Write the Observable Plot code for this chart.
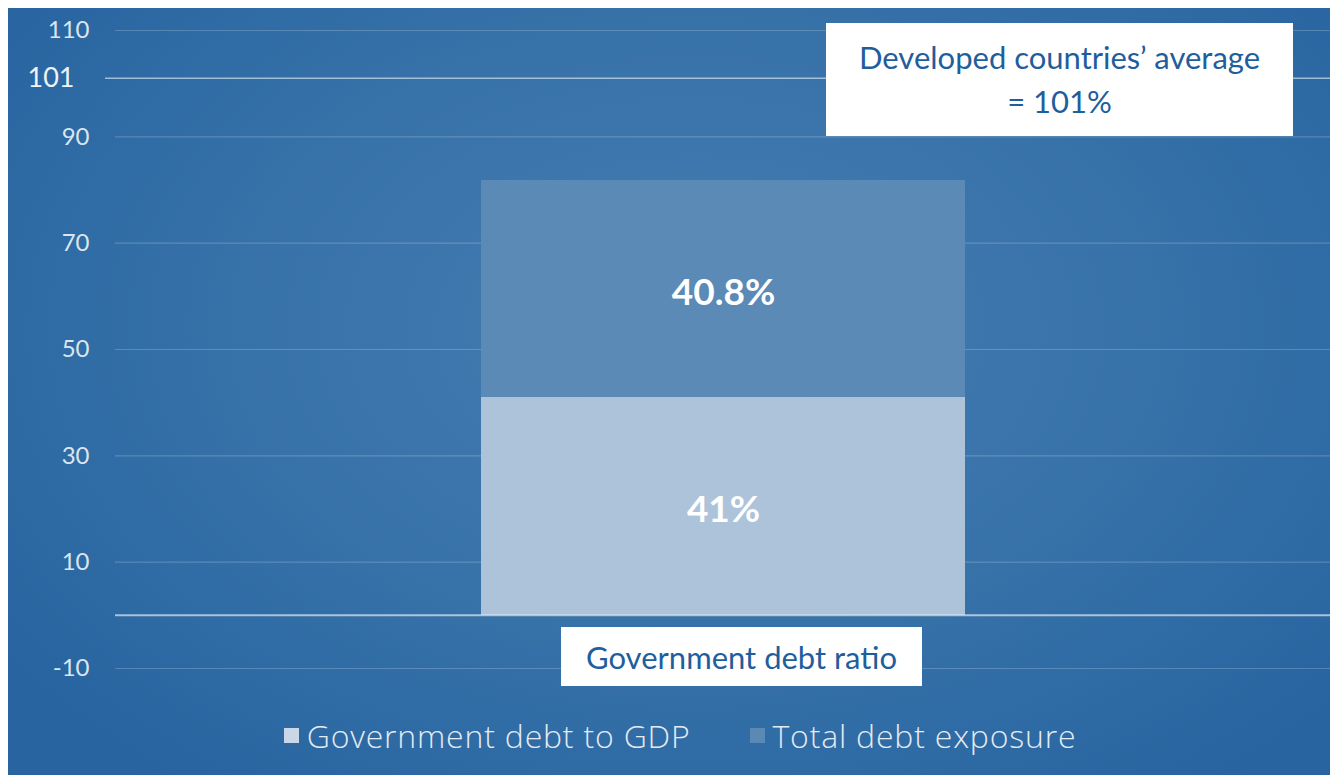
<!DOCTYPE html>
<html>
<head>
<meta charset="utf-8">
<script src="https://cdn.jsdelivr.net/npm/d3@7"></script>
<script src="https://cdn.jsdelivr.net/npm/@observablehq/plot@0.6"></script>
<style>
  html, body { margin: 0; padding: 0; background: #ffffff; overflow: hidden; }
  #wrap {
    position: absolute; left: 8px; top: 8px; width: 1322px; height: 767px;
    background: radial-gradient(ellipse 65% 75% at 52% 42%, #457db1 0%, #3671a8 55%, #2764a0 100%);
    font-family: Lato, "Open Sans", sans-serif;
  }
  #chart { position: absolute; left: 0; top: 0; }
  #note {
    position: absolute; left: 818px; top: 15px; width: 467px; height: 113px;
    background: #ffffff; color: #1f5e9c; font-size: 31px; line-height: 44px;
    text-align: center; box-sizing: border-box; padding-top: 12px;
  }
  #legend {
    position: absolute; left: 0; top: 702px; width: 1322px; height: 50px; box-sizing: border-box; padding-left: 22px;
    display: flex; justify-content: center; align-items: center; gap: 59px;
    color: #e3eaf2; font-family: "Open Sans", Lato, sans-serif; font-weight: 300; font-size: 32px; letter-spacing: 0.8px;
  }
  .item { display: flex; align-items: center; gap: 8px; }
  .sw { width: 15px; height: 15px; display: inline-block; }
</style>
</head>
<body>
<div id="wrap">
  <div id="chart"></div>
  <div id="note"></div>
  <div id="legend"></div>
</div>
<script>
const categories = ["Government debt ratio"];
const series = ["Government debt to GDP", "Total debt exposure"];
const values = [41, 40.8];
const valueLabels = ["41%", "40.8%"];
const seriesColors = ["#adc3da", "#5b8ab6"];
const legendColors = ["#c9d7e7", "#5a89b6"];
const yTicks = [-10, 10, 30, 50, 70, 90, 110];
const average = 101;
const noteLines = ["Developed countries\u2019 average", "= 101%"];

const rows = series.map((s, i) => ({category: categories[0], series: s, value: values[i], label: valueLabels[i]}));

const plot = Plot.plot({
  width: 1322,
  height: 700,
  marginTop: 22,
  marginBottom: 40,
  marginLeft: 107,
  marginRight: 0,
  style: {background: "transparent", color: "#dbe5ef", fontFamily: "Lato, 'Open Sans', sans-serif", overflow: "visible"},
  x: {domain: categories, padding: 0.43},
  y: {domain: [-10, 110]},
  color: {domain: series, range: seriesColors},
  marks: [
    Plot.gridY(yTicks, {stroke: "#ffffff", strokeOpacity: 0.2, strokeWidth: 1.2}),
    Plot.ruleY([average], {stroke: "#ffffff", strokeOpacity: 0.55, strokeWidth: 1.5, insetLeft: -10}),
    Plot.barY(rows, {x: "category", y: "value", fill: "series", order: series}),
    Plot.ruleY([0], {stroke: "#ffffff", strokeOpacity: 0.6, strokeWidth: 2}),
    Plot.text(rows, Plot.stackY({x: "category", y: "value", z: "series", order: series, text: "label", fill: "#ffffff", fontSize: 37, fontWeight: "bold", dy: 4})),
    Plot.axisY({ticks: yTicks, tickSize: 0, tickPadding: 26, fontSize: 24, label: null, fill: "#dbe5ef", tickFormat: d => String(d)}),
    Plot.text([average], {y: d => d, text: d => String(d), frameAnchor: "left", dx: -41, textAnchor: "end", fontSize: 27, fill: "#eef3f8"}),
    Plot.axisX({tickSize: 0, tickPadding: 0, dy: -22, dx: 18, fontSize: 31, label: null, fill: "#1f5e9c"})
  ]
});
document.getElementById("chart").appendChild(plot);

// white box behind the category label
const axisX = plot.querySelector('[aria-label="x-axis tick label"]');
if (axisX) {
  axisX.querySelectorAll("text").forEach(t => {
    const b = t.getBBox();
    const g = t.parentNode;
    const r = document.createElementNS("http://www.w3.org/2000/svg", "rect");
    r.setAttribute("x", b.x - 25);
    r.setAttribute("y", b.y + b.height / 2 - 29.5);
    r.setAttribute("width", b.width + 50);
    r.setAttribute("height", 59);
    r.setAttribute("fill", "#ffffff");
    const tr = t.getAttribute("transform");
    if (tr) r.setAttribute("transform", tr);
    g.insertBefore(r, t);
  });
}

document.getElementById("note").innerHTML = noteLines.map(l => `<div>${l}</div>`).join("");

const legend = document.getElementById("legend");
series.forEach((s, i) => {
  const it = document.createElement("div");
  it.className = "item";
  it.innerHTML = `<span class="sw" style="background:${legendColors[i]}"></span><span>${s}</span>`;
  legend.appendChild(it);
});
</script>
</body>
</html>
